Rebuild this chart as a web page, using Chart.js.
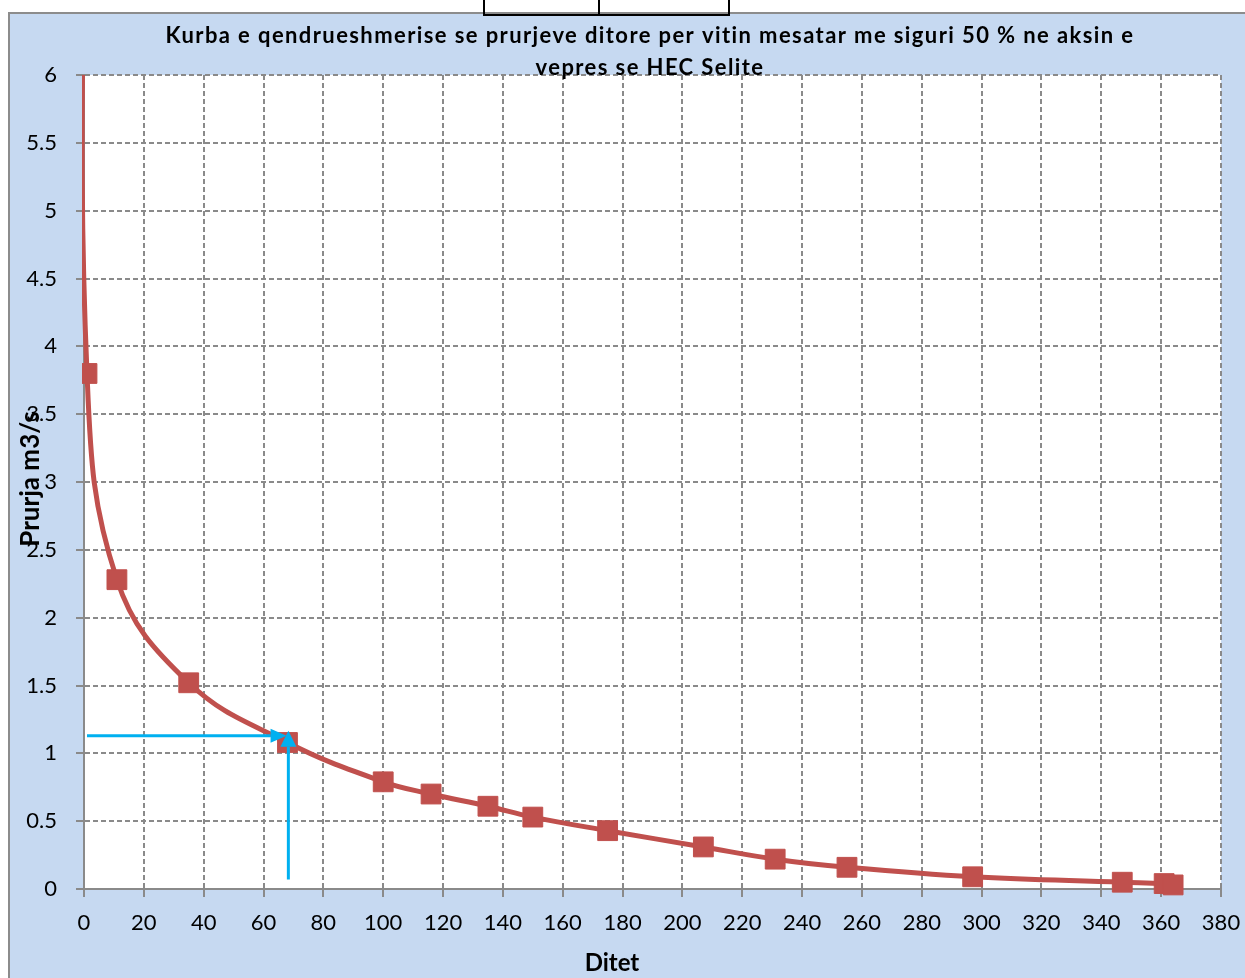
<!DOCTYPE html>
<html>
<head>
<meta charset="utf-8">
<title>Kurba e qendrueshmerise se prurjeve ditore</title>
<script src="https://cdn.jsdelivr.net/npm/chart.js@4/dist/chart.umd.min.js"></script>
<style>
  html, body { margin: 0; padding: 0; background: #ffffff; }
  #chart { display: block; }
</style>
</head>
<body>
<canvas id="chart" width="1245" height="978"></canvas>
<script>
// Flow duration curve, average year (50 % probability), HEC Selite intake
const days  = [0, 1, 11, 35, 68, 100, 116, 135, 150, 175, 207, 231, 255, 297, 347, 361, 364];
const flows = [8.0, 3.80, 2.28, 1.52, 1.08, 0.79, 0.70, 0.61, 0.53, 0.43, 0.31, 0.22, 0.16, 0.09, 0.05, 0.04, 0.03];

const xTickValues = [0, 20, 40, 60, 80, 100, 120, 140, 160, 180, 200, 220, 240, 260, 280, 300, 320, 340, 360, 380];
const yTickLabels = ['0', '0.5', '1', '1.5', '2', '2.5', '3', '3.5', '4', '4.5', '5', '5.5', '6'];

const titleLines = [
  'Kurba e qendrueshmerise se prurjeve ditore per vitin mesatar me siguri 50 % ne aksin e',
  'vepres se HEC Selite'
];
const xTitle = 'Ditet';
const yTitle = 'Prurja m3/s';

// Reading guide: flow level and the day where it meets the curve
const guideFlow = 1.13;
const guideStartDay = 1;
const guideTipDay = 67.7;
const guideDay = 68.3;
const guideBaseFlow = 0.07;
const guideTipFlow = 1.167;

const BLUE_BG = '#c6d9f1';
const FRAME = '#8c8c8c';
const GRID = '#8a8a8a';
const RED = '#c0504d';
const GUIDE = '#00b0f0';
const FONT = 'Lato, "Open Sans", sans-serif';

const backgroundPlugin = {
  id: 'panelBackground',
  beforeDraw(chart) {
    const { ctx, chartArea } = chart;
    ctx.save();
    ctx.fillStyle = '#ffffff';
    ctx.fillRect(0, 0, chart.width, chart.height);
    // outer panel
    ctx.fillStyle = BLUE_BG;
    ctx.fillRect(9, 13, chart.width, chart.height);
    ctx.strokeStyle = FRAME;
    ctx.lineWidth = 2;
    ctx.beginPath();
    ctx.moveTo(9, chart.height + 5);
    ctx.lineTo(9, 13);
    ctx.lineTo(chart.width + 5, 13);
    ctx.stroke();
    // small table cell edge above the panel
    ctx.strokeStyle = '#000000';
    ctx.lineWidth = 2;
    ctx.strokeRect(484, -5, 245, 20);
    ctx.beginPath();
    ctx.moveTo(599, -5);
    ctx.lineTo(599, 15);
    ctx.stroke();
    // plot area
    ctx.fillStyle = '#ffffff';
    ctx.fillRect(chartArea.left, chartArea.top, chartArea.right - chartArea.left, chartArea.bottom - chartArea.top);
    ctx.restore();
  }
};

function drawArrow(ctx, x1, y1, x2, y2, head, halfW) {
  const ang = Math.atan2(y2 - y1, x2 - x1);
  const bx = x2 - head * Math.cos(ang);
  const by = y2 - head * Math.sin(ang);
  ctx.beginPath();
  ctx.moveTo(x1, y1);
  ctx.lineTo(bx, by);
  ctx.stroke();
  ctx.beginPath();
  ctx.moveTo(x2, y2);
  ctx.lineTo(bx + halfW * Math.sin(ang), by - halfW * Math.cos(ang));
  ctx.lineTo(bx - halfW * Math.sin(ang), by + halfW * Math.cos(ang));
  ctx.closePath();
  ctx.fill();
}

const guidePlugin = {
  id: 'guideArrows',
  afterDatasetsDraw(chart) {
    const { ctx, scales: { x, y } } = chart;
    ctx.save();
    ctx.strokeStyle = GUIDE;
    ctx.fillStyle = GUIDE;
    ctx.lineWidth = 3;
    drawArrow(ctx,
      x.getPixelForValue(guideStartDay), y.getPixelForValue(guideFlow),
      x.getPixelForValue(guideTipDay), y.getPixelForValue(guideFlow), 16, 7);
    drawArrow(ctx,
      x.getPixelForValue(guideDay), y.getPixelForValue(guideBaseFlow),
      x.getPixelForValue(guideDay), y.getPixelForValue(guideTipFlow), 16, 8);
    ctx.restore();
  }
};

const textPlugin = {
  id: 'chartTexts',
  afterDraw(chart) {
    const { ctx } = chart;
    ctx.save();
    ctx.fillStyle = '#000000';
    ctx.textAlign = 'center';
    ctx.textBaseline = 'alphabetic';
    ctx.font = 'bold 22px ' + FONT;
    ctx.letterSpacing = '1.4px';
    ctx.fillText(titleLines[0], 650, 43);
    ctx.fillText(titleLines[1], 650, 75);
    ctx.letterSpacing = '0px';

    ctx.font = 'bold 24px ' + FONT;
    ctx.fillText(xTitle, 612, 971);

    ctx.font = 'bold 26px ' + FONT;
    ctx.translate(39, 479);
    ctx.rotate(-Math.PI / 2);
    ctx.fillText(yTitle, 0, 0);
    ctx.restore();
  }
};

const tickFont = { family: FONT, size: 22 };

new Chart(document.getElementById('chart'), {
  type: 'line',
  data: {
    datasets: [{
      data: days.map((d, i) => ({ x: d, y: flows[i] })),
      borderColor: RED,
      backgroundColor: RED,
      borderWidth: 5,
      tension: 0.4,
      pointStyle: 'rect',
      pointRadius: 14,
      pointHoverRadius: 14,
      pointBackgroundColor: RED,
      pointBorderColor: RED,
      pointBorderWidth: 1,
      clip: { left: 2, top: 0, right: 12, bottom: 12 }
    }]
  },
  options: {
    responsive: false,
    animation: false,
    devicePixelRatio: 1,
    layout: { padding: { top: 75, right: 24, bottom: 0, left: 0 } },
    plugins: {
      legend: { display: false },
      tooltip: { enabled: false },
      title: { display: false }
    },
    scales: {
      x: {
        type: 'linear',
        min: 0,
        max: 380,
        afterBuildTicks(scale) { scale.ticks = xTickValues.map(v => ({ value: v })); },
        afterFit(scale) {
          scale.height = 89;
          scale.paddingLeft = 0;
          scale.paddingRight = 0;
        },
        ticks: {
          autoSkip: false,
          maxRotation: 0,
          padding: 13,
          color: '#000000',
          font: tickFont,
          callback: (v) => String(v)
        },
        grid: {
          color: GRID,
          lineWidth: 2,
          drawTicks: true,
          tickLength: 8,
          tickColor: GRID,
          tickWidth: 2
        },
        border: { display: true, color: GRID, width: 2, dash: [5, 3] }
      },
      y: {
        type: 'linear',
        min: 0,
        max: 6,
        afterBuildTicks(scale) { scale.ticks = yTickLabels.map(t => ({ value: parseFloat(t) })); },
        afterFit(scale) {
          scale.width = 84;
          scale.paddingTop = 0;
          scale.paddingBottom = 0;
        },
        ticks: {
          autoSkip: false,
          padding: 19,
          color: '#000000',
          font: tickFont,
          callback: (v, i) => yTickLabels[i]
        },
        grid: {
          color: GRID,
          lineWidth: 2,
          drawTicks: true,
          tickLength: 8,
          tickColor: GRID,
          tickWidth: 2
        },
        border: { display: true, color: GRID, width: 2, dash: [5, 3] }
      }
    }
  },
  plugins: [backgroundPlugin, guidePlugin, textPlugin]
});
</script>
</body>
</html>
